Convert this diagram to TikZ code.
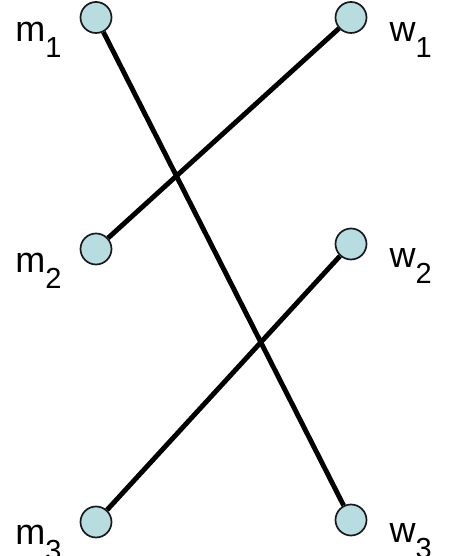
\documentclass[tikz,border=0pt]{standalone}
\usepackage{fontspec}
\setmainfont{Liberation Sans}
\usetikzlibrary{positioning}
\definecolor{nodeblue}{RGB}{184,221,225}
\newcommand{\subnum}[1]{\raisebox{-16pt}{\fontsize{29}{32}\selectfont #1}}

\begin{document}
\begin{tikzpicture}[x=1pt, y=1pt,
    person/.style={circle, draw=black!90, line width=1.7pt, fill=nodeblue,
                   minimum size=31pt, inner sep=0pt},
    match/.style={black, line width=4.9pt},
    lbl/.style={font=\fontsize{36}{40}\selectfont, inner sep=0pt}]
      \useasboundingbox (0,0) rectangle (454,556);

      % 1. left column: m_1, m_2, m_3
      \node[person] (m1) at (96,538.5) {};
      \node[person] (m2) at (96,307) {};
      \node[person] (m3) at (96,34) {};

      % 2. right column: w_1, w_2, w_3
      \node[person] (w1) at (351,538.5) {};
      \node[person] (w2) at (351,312) {};
      \node[person] (w3) at (351,36) {};

      % 3. the matching
      \draw[match] (m1) -- (w3);
      \draw[match] (m2) -- (w1);
      \draw[match] (m3) -- (w2);

      % 4. labels
      \node[lbl, below left=24pt and 18pt of m1.west, anchor=base east] (lm1) {m\subnum{1}};
      \node[lbl, below left=24pt and 18pt of m2.west, anchor=base east] (lm2) {m\subnum{2}};
      \node[lbl, below left=23pt and 18pt of m3.west, anchor=base east] (lm3) {m\subnum{3}};
      \node[lbl, below right=24pt and 22pt of w1.east, anchor=base west] (lw1) {w\subnum{1}};
      \node[lbl, below right=24pt and 22pt of w2.east, anchor=base west] (lw2) {w\subnum{2}};
      \node[lbl, below right=23pt and 22pt of w3.east, anchor=base west] (lw3) {w\subnum{3}};
\end{tikzpicture}
\end{document}
